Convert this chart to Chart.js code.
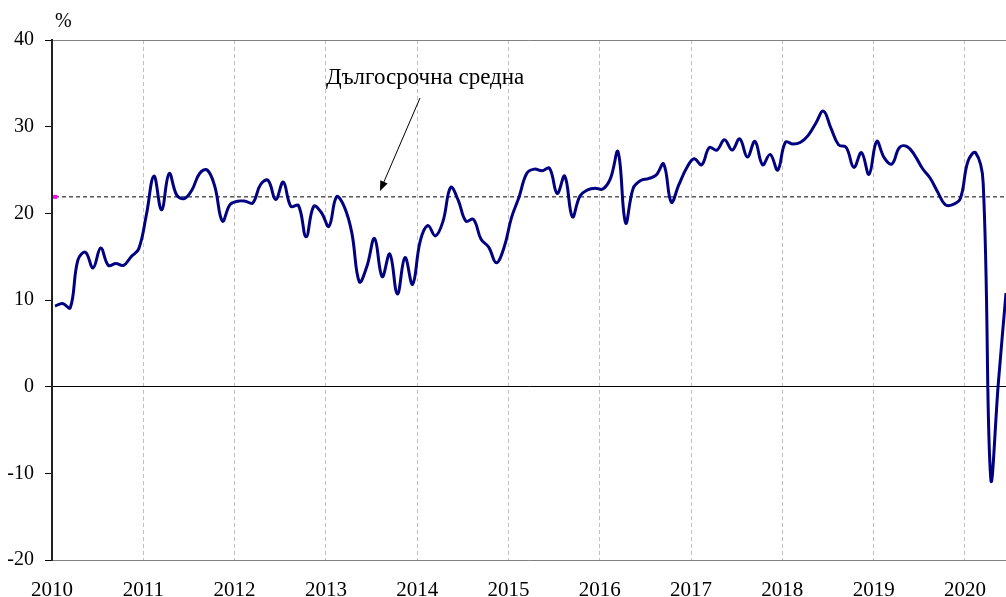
<!DOCTYPE html>
<html>
<head>
<meta charset="utf-8">
<script src="https://cdn.jsdelivr.net/npm/chart.js@4.4.0/dist/chart.umd.min.js"></script>
<style>
    body { margin: 0; background: #fff; }
    #wrap { width: 1006px; height: 597px; }
</style>
</head>
<body>
<div id="wrap"><canvas id="chart" width="1006" height="597"></canvas></div>
<script>
// monthly values, Jan..Dec of each year
const years = ['2010', '2011', '2012', '2013', '2014', '2015', '2016', '2017', '2018', '2019', '2020'];
const yTicks = [-20, -10, 0, 10, 20, 30, 40];
const v2010 = [9.3, 9.6, 9.1, 14.6, 15.5, 13.7, 16.0, 14.0, 14.2, 14.0, 15.0, 15.9];
const v2011 = [19.8, 24.3, 20.4, 24.6, 22.1, 21.7, 22.7, 24.6, 25.0, 23.1, 19.1, 21.0];
const v2012 = [21.4, 21.4, 21.2, 23.3, 23.8, 21.6, 23.6, 20.8, 20.9, 17.3, 20.8, 20.1];
const v2013 = [18.5, 21.9, 20.8, 17.8, 12.1, 13.9, 17.1, 12.7, 15.3, 10.7, 14.9, 11.8];
const v2014 = [16.8, 18.6, 17.4, 19.1, 23.0, 21.5, 19.1, 19.3, 17.0, 16.1, 14.3, 16.0];
const v2015 = [19.5, 21.9, 24.6, 25.1, 24.9, 25.2, 22.3, 24.3, 19.6, 22.0, 22.7, 22.9];
const v2016 = [22.8, 24.0, 27.1, 18.9, 22.9, 23.8, 24.0, 24.4, 25.7, 21.3, 23.3, 25.2];
const v2017 = [26.3, 25.6, 27.6, 27.3, 28.5, 27.3, 28.6, 26.5, 28.3, 25.6, 26.8, 25.0];
const v2018 = [28.2, 28.0, 28.2, 29.0, 30.4, 31.8, 29.8, 27.9, 27.6, 25.3, 27.0, 24.5];
const v2019 = [28.3, 26.4, 25.7, 27.6, 27.7, 26.7, 25.2, 24.1, 22.5, 21.0, 21.0, 21.7];
const v2020 = [26.0, 27.0, 23.5, -10.6, 0.5, 10.8];
const longTermAverage = 21.9;

const values = [].concat(v2010, v2011, v2012, v2013, v2014, v2015, v2016, v2017, v2018, v2019, v2020);
const serif = '"Liberation Serif", "Times New Roman", serif';

const notes = {
    id: 'notes',
    afterDraw(chart) {
        const ctx = chart.ctx;
        ctx.save();
        ctx.fillStyle = '#000';
        ctx.strokeStyle = '#000';
        ctx.textBaseline = 'alphabetic';
        ctx.textAlign = 'left';
        ctx.font = '20px ' + serif;
        ctx.fillText('%', 55, 27);
        ctx.font = '23px ' + serif;
        ctx.fillText('Дългосрочна средна', 326, 84);
        // arrow to the average line
        const x1 = 420, y1 = 98, x2 = 380, y2 = 191;
        const a = Math.atan2(y2 - y1, x2 - x1);
        ctx.lineWidth = 1;
        ctx.beginPath();
        ctx.moveTo(x1, y1);
        ctx.lineTo(x2 - 8 * Math.cos(a), y2 - 8 * Math.sin(a));
        ctx.stroke();
        ctx.beginPath();
        ctx.moveTo(x2, y2);
        ctx.lineTo(x2 - 10 * Math.cos(a) + 4 * Math.sin(a), y2 - 10 * Math.sin(a) - 4 * Math.cos(a));
        ctx.lineTo(x2 - 10 * Math.cos(a) - 4 * Math.sin(a), y2 - 10 * Math.sin(a) + 4 * Math.cos(a));
        ctx.closePath();
        ctx.fill();
        ctx.restore();
    }
};

const ctx = document.getElementById('chart').getContext('2d');
new Chart(ctx, {
    type: 'line',
    data: {
        datasets: [{
            data: values.map((v, i) => ({ x: i + 0.4, y: v })),
            borderColor: '#000080',
            borderWidth: 3,
            pointRadius: 0,
            tension: 0.4,
            fill: false
        }, {
            data: [{ x: 0.4, y: longTermAverage }, { x: values.length - 0.6, y: longTermAverage }],
            borderColor: '#000',
            borderWidth: 1,
            borderDash: [4, 3],
            pointRadius: [2.8, 0],
            pointStyle: 'rect',
            pointBackgroundColor: '#ff00ff',
            pointBorderWidth: 0,
            fill: false
        }]
    },
    options: {
        responsive: false,
        animation: false,
        layout: { autoPadding: false, padding: { top: 40, right: 0, bottom: 0, left: 0 } },
        plugins: {
            legend: { display: false },
            tooltip: { enabled: false }
        },
        scales: {
            x: {
                type: 'linear',
                min: 0,
                max: values.length - 0.6,
                afterBuildTicks: s => { s.ticks = years.map((_, k) => ({ value: k * 12 })); },
                afterFit: s => { s.height = 37; },
                ticks: {
                    callback: v => years[Math.round(v / 12)],
                    color: '#000',
                    font: { family: serif, size: 21 },
                    padding: 18,
                    maxRotation: 0,
                    autoSkip: false
                },
                grid: {
                    color: c => c.tick && c.tick.value === 0 ? 'rgba(0,0,0,0)' : '#c0c0c0',
                    lineWidth: 1,
                    drawTicks: false
                },
                border: { color: '#808080', width: 1, dash: [4, 3] }
            },
            y: {
                min: -20,
                max: 40,
                afterBuildTicks: s => { s.ticks = yTicks.map(v => ({ value: v })); },
                afterFit: s => { s.width = 52; },
                ticks: {
                    color: '#000',
                    font: { family: serif, size: 20 },
                    padding: 11
                },
                grid: {
                    color: c => c.tick.value === 0 ? '#000' : (c.tick.value === 40 ? '#808080' : 'rgba(0,0,0,0)'),
                    tickColor: '#000',
                    tickLength: 7,
                    lineWidth: 1
                },
                border: { color: '#222', width: 2 }
            }
        }
    },
    plugins: [notes]
});
</script>
</body>
</html>
